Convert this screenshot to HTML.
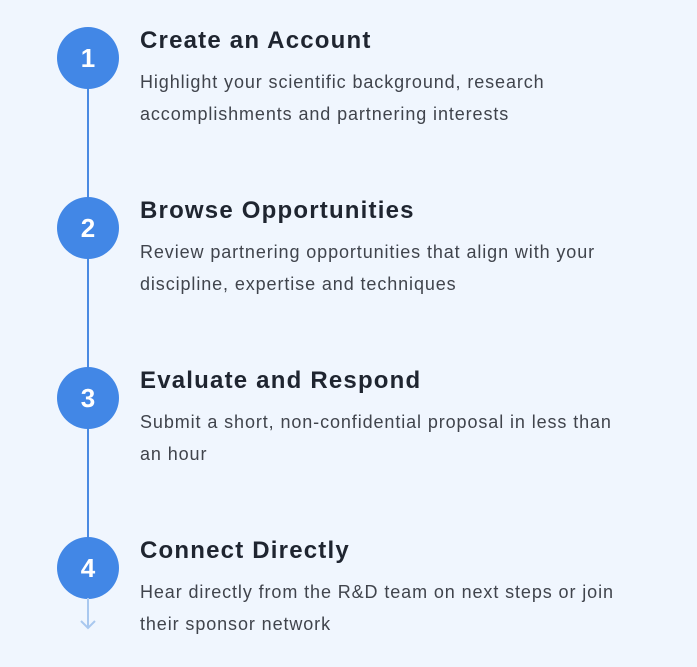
<!DOCTYPE html>
<html><head><style>
body{margin:0;width:697px;height:667px;background:#f0f6fe;font-family:"Liberation Sans",sans-serif;position:relative;overflow:hidden}
.c{position:absolute;left:57px;width:62px;height:62px;border-radius:50%;background:#4287e6;color:#fff;font-size:26px;font-weight:bold;text-align:center;line-height:62px}
.l{position:absolute;left:87px;width:2px;background:#4a8ae2}
.t{position:absolute;left:140px;font-size:24px;font-weight:bold;color:#1f2530;line-height:30px;letter-spacing:1.2px}
.d{position:absolute;left:140px;font-size:18px;color:#40444c;line-height:32px;width:550px;letter-spacing:0.9px;white-space:nowrap}
</style></head><body>
<div class="l" style="top:80px;height:470px"></div>
<div class="c" style="top:27px">1</div>
<div class="c" style="top:197px">2</div>
<div class="c" style="top:367px">3</div>
<div class="c" style="top:537px">4</div>
<svg style="position:absolute;left:78px;top:598px" width="20" height="34"><line x1="10" y1="0" x2="10" y2="30" stroke="#a9c8ef" stroke-width="2"/><polyline points="3,23 10,30 17,23" fill="none" stroke="#a9c8ef" stroke-width="2"/></svg>
<div class="t" style="top:26px">Create an Account</div>
<div class="d" style="top:66px">Highlight your scientific background, research<br>accomplishments and partnering interests</div>
<div class="t" style="top:196px">Browse Opportunities</div>
<div class="d" style="top:236px">Review partnering opportunities that align with your<br>discipline, expertise and techniques</div>
<div class="t" style="top:366px">Evaluate and Respond</div>
<div class="d" style="top:406px">Submit a short, non-confidential proposal in less than<br>an hour</div>
<div class="t" style="top:536px">Connect Directly</div>
<div class="d" style="top:576px">Hear directly from the R&amp;D team on next steps or join<br>their sponsor network</div>
</body></html>
